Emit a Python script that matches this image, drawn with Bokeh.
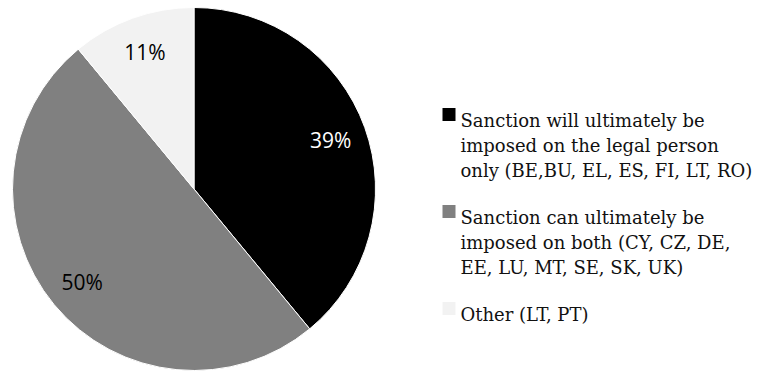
import numpy as np
from bokeh.plotting import figure
from bokeh.models import Range1d, ColumnDataSource
from bokeh.core.properties import value
from bokeh.embed import file_html
from bokeh.resources import INLINE

# ---- data ----
categories = [
    "Sanction will ultimately be imposed on the legal person only (BE,BU, EL, ES, FI, LT, RO)",
    "Sanction can ultimately be imposed on both (CY, CZ, DE, EE, LU, MT, SE, SK, UK)",
    "Other (LT, PT)",
]
legend_lines = [
    ["Sanction will ultimately be", "imposed on the legal person", "only (BE,BU, EL, ES, FI, LT, RO)"],
    ["Sanction can ultimately be", "imposed on both (CY, CZ, DE,", "EE, LU, MT, SE, SK, UK)"],
    ["Other (LT, PT)"],
]
shares = [39, 50, 11]
pct_labels = ["39%", "50%", "11%"]
colors = ["#000000", "#808080", "#f2f2f2"]
label_colors = ["#ffffff", "#000000", "#000000"]

# ---- layout (pixels) ----
W, H = 764, 371
cx, cy_px, R = 193.5, 188.5, 181.5
cy = H - cy_px

p = figure(width=W, height=H, output_backend="svg", toolbar_location=None,
           x_range=Range1d(0, W), y_range=Range1d(0, H), min_border=0)
p.axis.visible = False
p.grid.visible = False
p.outline_line_color = None
p.background_fill_color = "white"
p.border_fill_color = "white"

vals = np.array(shares, dtype=float)
frac = vals / vals.sum()
cum = np.concatenate([[0], np.cumsum(frac)])
start = np.pi / 2 - 2 * np.pi * cum[:-1]
end = np.pi / 2 - 2 * np.pi * cum[1:]
mid = (start + end) / 2

src = ColumnDataSource(dict(start=start, end=end, color=colors))
p.wedge(x=cx, y=cy, radius=R, start_angle="start", end_angle="end",
        direction="clock", fill_color="color", line_color="white",
        line_width=1, source=src)

lr = 0.8 * R
lsrc = ColumnDataSource(dict(x=cx + lr * np.cos(mid), y=cy + lr * np.sin(mid),
                             t=pct_labels, c=label_colors))
p.text(x="x", y="y", text="t", text_color="c", source=lsrc,
       text_align="center", text_baseline="middle",
       text_font=value("Open Sans"), text_font_size="21px")

# ---- legend ----
sq_x, sq = 448.5, 13
tx = 460
first_line_px = [120, 217, 314]
pitch = 25
for i, lines in enumerate(legend_lines):
    y0 = H - first_line_px[i]
    p.rect(x=[sq_x], y=[y0 + sq / 2 - 0.5], width=sq, height=sq, fill_color=colors[i],
           line_color=None)
    ys = [y0 - k * pitch for k in range(len(lines))]
    p.text(x=[tx] * len(lines), y=ys, text=lines, text_color="#111111",
           text_align="left", text_baseline="alphabetic",
           text_font=value("DejaVu Serif"), text_font_size="18px")

open("out.html", "w").write(file_html(p, INLINE))
